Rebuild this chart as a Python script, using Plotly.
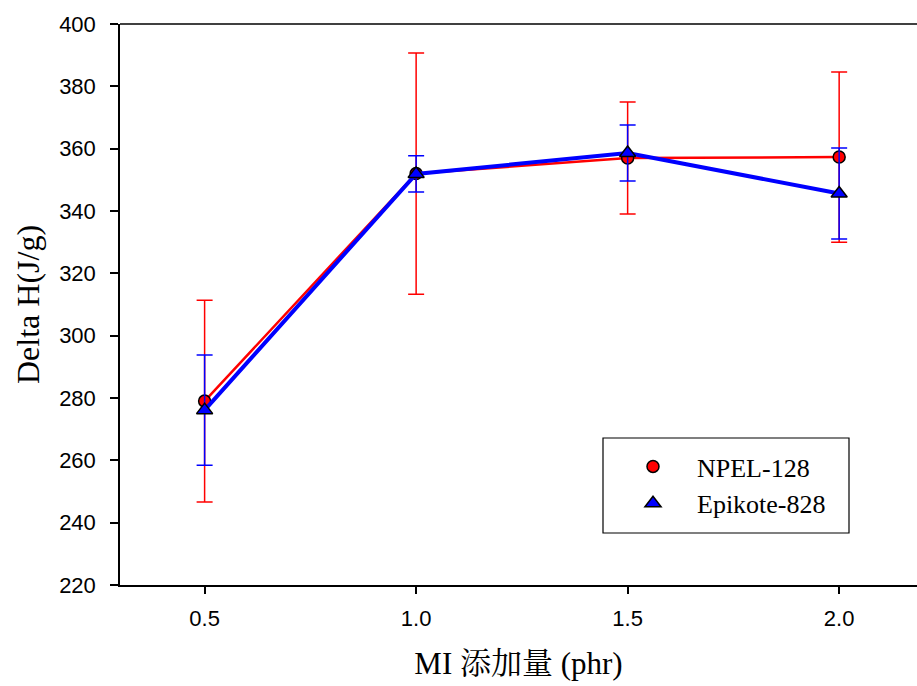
import plotly.graph_objects as go

x_vals = [0.5, 1.0, 1.5, 2.0]
npel_y = [279.0, 352.0, 357.0, 357.3]
npel_err = [32.4, 38.7, 18.0, 27.3]
epi_y = [276.1, 351.9, 358.6, 345.6]
epi_err = [17.7, 5.8, 9.0, 14.6]
series_names = ["NPEL-128", "Epikote-828"]
y_ticks = [220, 240, 260, 280, 300, 320, 340, 360, 380, 400]
x_ticks = [0.5, 1.0, 1.5, 2.0]
x_tick_text = ["0.5", "1.0", "1.5", "2.0"]

fig = go.Figure()

fig.add_trace(go.Scatter(
    x=x_vals, y=npel_y, mode="lines+markers", showlegend=False,
    line=dict(color="#ff0000", width=2.5),
    marker=dict(symbol="circle", size=12, color="#ff0000", line=dict(color="black", width=1.5)),
    error_y=dict(type="data", array=npel_err, visible=True, color="#ff0000", thickness=1.5, width=8),
))
fig.add_trace(go.Scatter(
    x=x_vals, y=epi_y, mode="lines+markers", showlegend=False,
    line=dict(color="#0000ff", width=4),
    marker=dict(symbol="triangle-up", size=14, color="#0000ff", line=dict(color="black", width=1.5)),
    error_y=dict(type="data", array=epi_err, visible=True, color="#0000ff", thickness=1.5, width=8),
))
# legend entries (markers only)
fig.add_trace(go.Scatter(
    x=[None], y=[None], mode="markers", name=series_names[0],
    marker=dict(symbol="circle", size=12, color="#ff0000", line=dict(color="black", width=1.5)),
))
fig.add_trace(go.Scatter(
    x=[None], y=[None], mode="markers", name=series_names[1],
    marker=dict(symbol="triangle-up", size=14, color="#0000ff", line=dict(color="black", width=1.5)),
))

fig.update_layout(
    width=917, height=686,
    margin=dict(l=120, r=0, t=24, b=101),
    paper_bgcolor="white", plot_bgcolor="white",
    showlegend=True,
    legend=dict(
        x=(609 - 120) / 797, y=(585 - 443) / 561, xanchor="left", yanchor="top",
        bgcolor="rgba(0,0,0,0)", borderwidth=0,
        font=dict(family="Liberation Serif, Times New Roman, serif", size=26, color="black"),
        itemwidth=78, tracegroupgap=0,
    ),
    xaxis=dict(
        range=[0.3, 2.184], tickvals=x_ticks, ticktext=x_tick_text,
        showgrid=False, zeroline=False, showline=True, linecolor="black", linewidth=1.5,
        ticks="outside", ticklen=7, tickwidth=1.5, tickcolor="black",
        tickfont=dict(family="Liberation Sans, Arial, sans-serif", size=22, color="black"),
        ticklabelstandoff=6,
        title=dict(text="MI 添加量 (phr)", standoff=22,
                   font=dict(family="Liberation Serif, Noto Serif CJK SC, Noto Sans CJK SC, serif", size=31, color="black")),
    ),
    yaxis=dict(
        range=[220, 400], tickvals=y_ticks,
        showgrid=False, zeroline=False, showline=True, linecolor="black", linewidth=1.5,
        ticks="outside", ticklen=8, tickwidth=1.5, tickcolor="black",
        tickfont=dict(family="Liberation Sans, Arial, sans-serif", size=22, color="black"),
        ticklabelstandoff=10,
        title=dict(text="Delta H(J/g)", standoff=10,
                   font=dict(family="Liberation Serif, Times New Roman, serif", size=32, color="black")),
    ),
    shapes=[
        dict(type="line", xref="paper", yref="paper", x0=0, x1=1, y0=1, y1=1,
             line=dict(color="black", width=1.5)),
        dict(type="rect", xref="paper", yref="paper",
             x0=(603 - 120) / 797, x1=(849 - 120) / 797,
             y0=(585 - 533) / 561, y1=(585 - 438) / 561,
             line=dict(color="black", width=1.2), fillcolor="rgba(0,0,0,0)"),
    ],
)

fig.write_html("out.html")
